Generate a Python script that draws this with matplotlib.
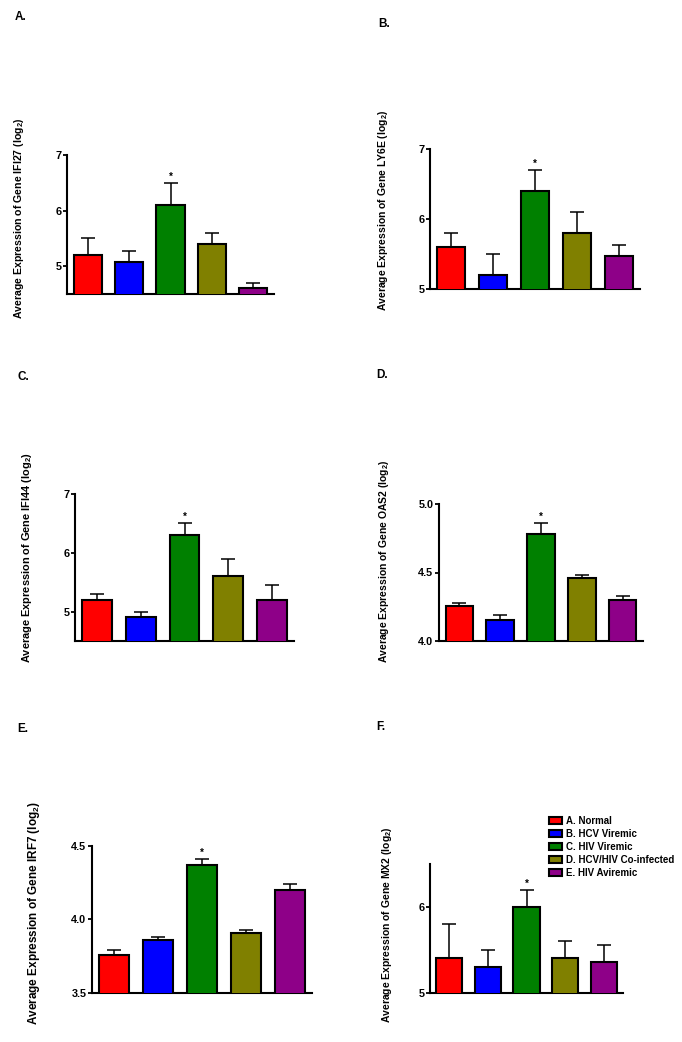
import matplotlib
matplotlib.use("Agg")
import matplotlib.pyplot as plt
import numpy as np

plt.rcParams['font.family'] = ['Liberation Sans', 'DejaVu Sans']
plt.rcParams['mathtext.fontset'] = 'custom'
plt.rcParams['mathtext.rm'] = 'Liberation Sans:bold'
plt.rcParams['mathtext.bf'] = 'Liberation Sans:bold'

groups = ["A. Normal", "B. HCV Viremic", "C. HIV Viremic", "D. HCV/HIV Co-infected", "E. HIV Aviremic"]
colors = ['#FF0000', '#0000FF', '#008000', '#808000', '#8E0088']

genes = ["IFI27", "LY6E", "IFI44", "OAS2", "IRF7", "MX2"]
letters = ["A.", "B.", "C.", "D.", "E.", "F."]

means_IFI27 = [5.20, 5.08, 6.10, 5.40, 4.60]
sem_IFI27 = [0.30, 0.20, 0.40, 0.20, 0.10]
means_LY6E = [5.60, 5.20, 6.40, 5.80, 5.48]
sem_LY6E = [0.20, 0.30, 0.30, 0.30, 0.15]
means_IFI44 = [5.20, 4.90, 6.30, 5.60, 5.20]
sem_IFI44 = [0.10, 0.10, 0.20, 0.30, 0.25]
means_OAS2 = [4.254, 4.153, 4.780, 4.462, 4.300]
sem_OAS2 = [0.026, 0.037, 0.077, 0.018, 0.030]
means_IRF7 = [3.758, 3.861, 4.371, 3.908, 4.198]
sem_IRF7 = [0.030, 0.018, 0.038, 0.021, 0.041]
means_MX2 = [5.405, 5.300, 6.000, 5.405, 5.358]
sem_MX2 = [0.393, 0.200, 0.198, 0.195, 0.198]

ylims = [(4.5, 7), (5, 7), (4.5, 7), (4.0, 5.0), (3.5, 4.5), (5, 6.5)]
yticks = [[5, 6, 7], [5, 6, 7], [5, 6, 7], [4.0, 4.5, 5.0], [3.5, 4.0, 4.5], [5, 6]]
ytick_labels = [["5", "6", "7"], ["5", "6", "7"], ["5", "6", "7"],
                ["4.0", "4.5", "5.0"], ["3.5", "4.0", "4.5"], ["5", "6"]]

all_means = [means_IFI27, means_LY6E, means_IFI44, means_OAS2, means_IRF7, means_MX2]
all_sems = [sem_IFI27, sem_LY6E, sem_IFI44, sem_OAS2, sem_IRF7, sem_MX2]

W, H = 682, 1042
fig = plt.figure(figsize=(W / 100, H / 100), dpi=100)

# axes boxes in pixels: x0, x1, ytop, ybottom
boxes = [(67, 274, 155, 294), (430, 640, 149, 289.3), (75, 294, 494, 641),
         (439, 643, 503.7, 641.3), (92, 312, 845.7, 992.7), (430, 623, 864.3, 992.7)]
label_pos = [(19, 218), (383, 210), (27, 558), (384, 561), (34, 913), (387, 925)]
label_size = [7.6, 7.5, 7.9, 7.5, 8.5, 7.5]
letter_pos = [(15, 20), (378, 27), (17, 380), (376, 378), (17, 732), (376, 730)]

bar_handles = None
for i in range(6):
    x0, x1, yt, yb = boxes[i]
    ax = fig.add_axes([x0 / W, 1 - yb / H, (x1 - x0) / W, (yb - yt) / H])
    xs = np.arange(len(groups))
    bars = ax.bar(xs, all_means[i], width=0.68, color=colors, edgecolor='black',
                  linewidth=1.5, zorder=3, bottom=0)
    ax.errorbar(xs, all_means[i], yerr=[np.zeros(5), all_sems[i]], fmt='none',
                ecolor='black', elinewidth=1.1, capsize=5, capthick=1.1, zorder=2)
    if bar_handles is None:
        bar_handles = bars
    # significance star above the HIV viremic bar
    ax.annotate('*', xy=(2, all_means[i][2] + all_sems[i][2]), xytext=(0, 1),
                textcoords='offset points', ha='center', va='bottom',
                fontsize=7, fontweight='bold')
    ax.set_xlim(-0.5, 4.5)
    ax.set_ylim(*ylims[i])
    ax.set_yticks(yticks[i])
    ax.set_yticklabels(ytick_labels[i], fontsize=7.8, fontweight='bold')
    ax.set_xticks([])
    for s in ['top', 'right']:
        ax.spines[s].set_visible(False)
    for s in ['left', 'bottom']:
        ax.spines[s].set_linewidth(1.5)
    ax.tick_params(axis='y', length=3, width=1.3, pad=1)
    ax.patch.set_alpha(0)
    lx, ly = label_pos[i]
    fig.text(lx / W, 1 - ly / H,
             "Average Expression of Gene %s (log$_{\\mathbf{2}}$)" % genes[i],
             rotation=90, ha='center', va='center', fontsize=label_size[i],
             fontweight='bold')
    px, py = letter_pos[i]
    fig.text(px / W, 1 - py / H, letters[i], fontsize=8.5, fontweight='bold',
             ha='left', va='baseline')

fig.legend(bar_handles, groups, loc='upper left',
           bbox_to_anchor=(549 / W, 1 - 816 / H), frameon=False,
           prop={'weight': 'bold', 'size': 7}, handlelength=1.3,
           handleheight=0.8, handletextpad=0.5, labelspacing=0.3,
           borderpad=0, borderaxespad=0)

fig.savefig("out.png", dpi=100)
